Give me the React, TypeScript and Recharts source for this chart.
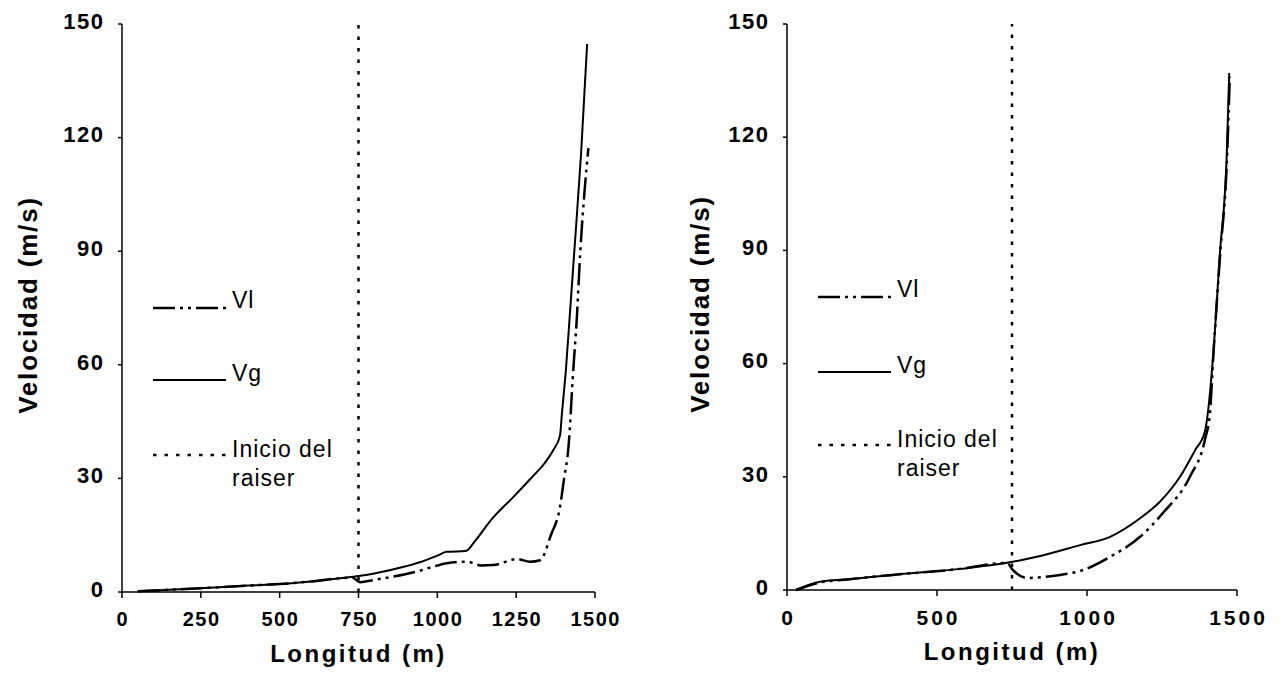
import { Legend, Line, LineChart, ReferenceLine, XAxis, YAxis } from 'recharts';

// left panel
const leftVgX = [50, 150, 250, 400, 500, 600, 700, 750, 800, 900, 950, 1000, 1030, 1090, 1120, 1170, 1240, 1300, 1340, 1368, 1389, 1395, 1408, 1420, 1434, 1456, 1475];
const leftVgY = [0.2, 0.6, 1, 1.7, 2.1, 2.8, 3.7, 4.2, 4.9, 6.8, 8, 9.6, 10.6, 10.8, 13.5, 19, 25, 30.3, 34, 37.5, 41.3, 47, 59, 73, 89.5, 116, 144.7];
const leftVlX = [50, 150, 250, 400, 500, 600, 700, 730, 755, 800, 850, 935, 1000, 1030, 1094, 1140, 1177, 1253, 1294, 1326, 1360, 1389, 1402, 1416, 1431, 1442, 1453, 1468, 1479];
const leftVlY = [0.2, 0.6, 1, 1.7, 2.1, 2.8, 3.7, 3.8, 2.6, 3.2, 3.9, 5.4, 7, 7.6, 8, 7, 7.1, 8.7, 8, 8.4, 15, 22.5, 30, 38.4, 58.6, 71.8, 89.4, 107, 117.2];
const leftXTicks = [0, 250, 500, 750, 1000, 1250, 1500];

// right panel
const rightVgX = [30, 110, 200, 353, 577, 733, 833, 977, 1077, 1177, 1243, 1310, 1360, 1393, 1403, 1421, 1443, 1466, 1474];
const rightVgY = [0, 2.2, 2.8, 4, 5.6, 7.2, 8.8, 11.9, 14.1, 19, 23.4, 30, 37, 42, 47, 62.7, 89.2, 115.7, 137];
const rightVlX = [30, 110, 200, 353, 577, 733, 753, 800, 910, 987, 1077, 1177, 1253, 1343, 1393, 1410, 1421, 1443, 1467, 1476];
const rightVlY = [0, 2, 2.8, 4, 5.6, 7.2, 5.3, 3.2, 4, 5.3, 8.8, 14.1, 20.4, 30, 39.8, 47, 62, 88, 115, 136];
const rightXTicks = [0, 500, 1000, 1500];

const yTicks = [0, 30, 60, 90, 120, 150];
const raiserStart = 750;

const FONT = '"Liberation Sans", Arial, Helvetica, sans-serif';
const VL_DASH = '22 5 3 5 3 5';
const DOT_DASH = '3.5 8';

const toPoints = (xs: number[], ys: number[]) => xs.map((x, i) => ({ x, v: ys[i] }));

function XTick({ x, y, payload, fs, ls }: any) {
  return (
    <text x={x + ls / 2} y={y} dy="0.71em" textAnchor="middle" fontFamily={FONT} fontWeight={700} fontSize={fs} letterSpacing={ls} fill="#000">
      {payload.value}
    </text>
  );
}

function YTick({ x, y, payload }: any) {
  return (
    <text x={x + 1.5} y={y - 3} dy="0.355em" textAnchor="end" fontFamily={FONT} fontWeight={700} fontSize={22} letterSpacing={1.5} fill="#000">
      {payload.value}
    </text>
  );
}

function YTitle({ viewBox, cx }: any) {
  const cy = viewBox ? viewBox.y + viewBox.height / 2 - 3 : 305;
  return (
    <text x={cx} y={cy} transform={`rotate(-90 ${cx} ${cy})`} textAnchor="middle" dominantBaseline="central" fontFamily={FONT} fontWeight={700} fontSize={26} letterSpacing={1.8} fill="#000">
      Velocidad (m/s)
    </text>
  );
}

function XTitle({ viewBox }: any) {
  const cx = viewBox ? viewBox.x + viewBox.width / 2 : 360;
  const by = viewBox ? viewBox.y + 70 : 662;
  return (
    <text x={cx} y={by} textAnchor="middle" fontFamily={FONT} fontWeight={700} fontSize={24} letterSpacing={2.5} fill="#000">
      Longitud (m)
    </text>
  );
}

function LegendBox({ rows, tx }: { rows: number[]; tx: number }) {
  const txt = { fontFamily: FONT, fontSize: 23, letterSpacing: 1, fill: '#000' };
  return (
    <svg width={220} height={230} style={{ display: 'block', overflow: 'visible' }}>
      <line x1={3} x2={76} y1={rows[0]} y2={rows[0]} stroke="#000" strokeWidth={2.5} strokeDasharray={VL_DASH} />
      <text x={tx} y={rows[0]} {...txt}>Vl</text>
      <line x1={3} x2={76} y1={rows[1]} y2={rows[1]} stroke="#000" strokeWidth={2} />
      <text x={tx} y={rows[1] + 1} {...txt}>Vg</text>
      <line x1={3} x2={76} y1={rows[2]} y2={rows[2]} stroke="#000" strokeWidth={2.5} strokeDasharray={DOT_DASH} />
      <text x={tx} y={rows[2] + 2} {...txt}>Inicio del</text>
      <text x={tx} y={rows[2] + 31} {...txt}>raiser</text>
    </svg>
  );
}

interface PanelProps {
  vg: { x: number; v: number }[];
  vl: { x: number; v: number }[];
  xTicks: number[];
  yAxisWidth: number;
  xAxisHeight: number;
  width: number;
  rightMargin: number;
  titleX: number;
  xTickFont: number;
  xTickSpacing: number;
  legendPos: { left: number; top: number };
  legendRows: number[];
}

function Panel(p: PanelProps) {
  return (
    <LineChart width={p.width} height={689} margin={{ top: 24, right: p.rightMargin, bottom: 0, left: 0 }}>
      <XAxis
        dataKey="x"
        type="number"
        domain={[0, 1500]}
        ticks={p.xTicks}
        height={p.xAxisHeight}
        stroke="#000"
        strokeWidth={1.5}
        tickSize={6}
        tickMargin={14}
        tick={<XTick fs={p.xTickFont} ls={p.xTickSpacing} />}
        label={<XTitle />}
      />
      <XAxis xAxisId="top" orientation="top" type="number" domain={[0, 1500]} height={0} tick={false} tickLine={false} stroke="#000" strokeWidth={1.5} />
      <YAxis
        type="number"
        domain={[0, 150]}
        ticks={yTicks}
        width={p.yAxisWidth}
        stroke="#000"
        strokeWidth={1.5}
        tickSize={4}
        tickMargin={15}
        tick={<YTick />}
        label={<YTitle cx={p.titleX} />}
      />
      <YAxis yAxisId="right" orientation="right" domain={[0, 150]} width={0} tick={false} tickLine={false} stroke="#000" strokeWidth={1.5} />
      <ReferenceLine x={raiserStart} stroke="#000" strokeWidth={2.5} strokeDasharray={DOT_DASH} />
      <Line data={p.vl} dataKey="v" type="monotone" stroke="#000" strokeWidth={2.5} strokeDasharray={VL_DASH} dot={false} isAnimationActive={false} />
      <Line data={p.vg} dataKey="v" type="monotone" stroke="#000" strokeWidth={2} dot={false} isAnimationActive={false} />
      <Legend
        layout="horizontal"
        verticalAlign="middle"
        align="center"
        content={() => <LegendBox rows={p.legendRows} tx={82} />}
        wrapperStyle={{ position: 'absolute', left: p.legendPos.left, top: p.legendPos.top, width: 220, height: 230 }}
      />
    </LineChart>
  );
}

export default function App() {
  return (
    <div style={{ position: 'absolute', left: 0, top: 0, width: 1281, height: 689, background: '#fff' }}>
      <div style={{ position: 'absolute', left: 0, top: 0 }}>
        <Panel
          vg={toPoints(leftVgX, leftVgY)}
          vl={toPoints(leftVlX, leftVlY)}
          xTicks={leftXTicks}
          yAxisWidth={122}
          xAxisHeight={97}
          width={640}
          rightMargin={45}
          titleX={28}
          xTickFont={20}
          xTickSpacing={1.5}
          legendPos={{ left: 150, top: 270 }}
          legendRows={[38, 110, 185]}
        />
      </div>
      <div style={{ position: 'absolute', left: 640, top: 0 }}>
        <Panel
          vg={toPoints(rightVgX, rightVgY)}
          vl={toPoints(rightVlX, rightVlY)}
          xTicks={rightXTicks}
          yAxisWidth={147}
          xAxisHeight={99}
          width={641}
          rightMargin={44}
          titleX={60}
          xTickFont={21}
          xTickSpacing={3}
          legendPos={{ left: 175, top: 260 }}
          legendRows={[37, 112, 185]}
        />
      </div>
    </div>
  );
}
